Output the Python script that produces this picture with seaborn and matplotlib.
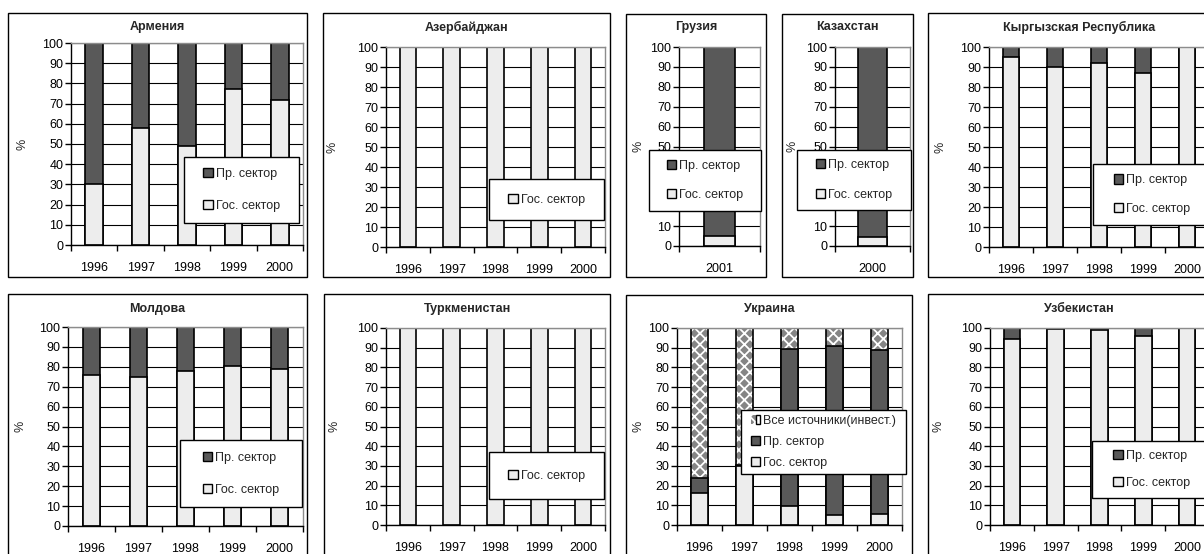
import numpy as np
import matplotlib.pyplot as plt
from matplotlib.patches import Patch, Rectangle
from matplotlib.legend_handler import HandlerTuple
import seaborn as sns

W, H = 1204, 554

YEARS = ['1996', '1997', '1998', '1999', '2000']

# shares of investment (%) by sector
armenia_gos = [30, 58, 49, 77, 72]
armenia_pr = [70, 42, 51, 23, 28]
azerbaijan_gos = [100, 100, 100, 100, 100]
georgia_years = ['2001']
georgia_gos = [5]
georgia_pr = [95]
kazakh_years = ['2000']
kazakh_gos = [4.5]
kazakh_pr = [95.5]
kyrgyz_gos = [95, 90, 92, 87, 100]
kyrgyz_pr = [5, 10, 8, 13, 0]
moldova_gos = [76, 75, 78, 80.5, 79]
moldova_pr = [24, 25, 22, 19.5, 21]
turkmen_gos = [100, 100, 100, 100, 100]
ukraine_gos = [16, 30, 9.5, 5, 5.5]
ukraine_pr = [8, 0.5, 80, 86, 83.5]
ukraine_all = [76, 69.5, 10.5, 9, 11]
uzbek_gos = [94.5, 99.5, 99, 96, 100]
uzbek_pr = [5.5, 0.5, 1, 4, 0]

LIGHT = '#ededed'
DARK = '#595959'
HATCH_FACE = '#858585'
HATCH = 'xxx'

sns.set_theme(style='white')
plt.rcParams['font.family'] = ['Liberation Sans', 'DejaVu Sans']
plt.rcParams['hatch.linewidth'] = 1.3

fig = plt.figure(figsize=(W / 100, H / 100), dpi=100)


def fig_rect(x0, y0, x1, y1, **kw):
    return Rectangle((x0 / W, 1 - y1 / H), (x1 - x0) / W, (y1 - y0) / H,
                     transform=fig.transFigure, **kw)


def panel(box, axbox, leg, title, ty, ylab_x, years, gos, pr=None, other=None, lab_sp=1.6):
    # panel frame
    fig.add_artist(fig_rect(*box, fill=False, edgecolor='black', lw=1, zorder=1))
    x0, y0, x1, y1 = axbox
    ax = fig.add_axes([x0 / W, 1 - y1 / H, (x1 - x0) / W, (y1 - y0) / H])

    layers = [(gos, LIGHT, 'Гос. сектор')]
    if pr is not None:
        layers.append((pr, DARK, 'Пр. сектор'))
    if other is not None:
        layers.append((other, 'hatch', 'Все источники(инвест.)'))
    cum = np.cumsum([np.array(l[0], dtype=float) for l in layers], axis=0)

    handles = []
    for i in reversed(range(len(layers))):
        vals, col, lab = layers[i]
        if col == 'hatch':
            sns.barplot(x=years, y=cum[i], color=HATCH_FACE, saturation=1, width=0.38,
                        hatch=HATCH, edgecolor='white', linewidth=0, errorbar=None, ax=ax)
            sns.barplot(x=years, y=cum[i], fill=False, color='black', width=0.38,
                        linewidth=1.2, errorbar=None, ax=ax)
            handles.append((Patch(facecolor=HATCH_FACE, edgecolor='white', hatch=HATCH, lw=0),
                            Patch(facecolor='none', edgecolor='black', lw=1)))
        else:
            sns.barplot(x=years, y=cum[i], color=col, saturation=1, width=0.38,
                        edgecolor='black', linewidth=1.2, errorbar=None, ax=ax)
            handles.append(Patch(facecolor=col, edgecolor='black', lw=1))
    labels = [l[2] for l in reversed(layers)]

    n = len(years)
    ax.set_xlim(-0.5, n - 0.5)
    ax.set_ylim(0, 100)
    ax.set_yticks(range(0, 101, 10))
    ax.set_xticks(np.arange(n + 1) - 0.5, minor=True)
    ax.set_xlabel('')
    ax.set_ylabel('')
    ax.set_axisbelow(True)
    ax.yaxis.grid(True, color='black', lw=0.8)
    ax.xaxis.grid(False)
    ax.tick_params(axis='x', which='major', length=0, pad=12, labelsize=9, colors='black')
    ax.tick_params(axis='x', which='minor', length=4, width=1, direction='out', color='black', bottom=True)
    ax.tick_params(axis='y', length=4, width=1, pad=1.5, labelsize=9, direction='out',
                   left=True, color='black', colors='black')
    for s in ['left', 'bottom']:
        ax.spines[s].set_color('black')
        ax.spines[s].set_linewidth(1)
    for s in ['top', 'right']:
        ax.spines[s].set_color('#8c8c8c')
        ax.spines[s].set_linewidth(1)

    # title and y label
    bx = (box[0] + box[2]) / 2
    fig.text(bx / W, 1 - ty / H, title, ha='center', va='center', fontsize=9, fontweight='bold')
    fig.text(ylab_x / W, 1 - (y0 + y1) / 2 / H, '%', rotation=90, ha='center', va='center', fontsize=9)

    # legend box with entries
    fig.add_artist(fig_rect(*leg, facecolor='white', edgecolor='black', lw=1, zorder=3))
    cx, cy = (leg[0] + leg[2]) / 2, (leg[1] + leg[3]) / 2
    lg = fig.legend(handles=handles, labels=labels, loc='center',
                    bbox_to_anchor=(cx / W, 1 - cy / H),
                    handler_map={tuple: HandlerTuple(ndivide=None, pad=0)},
                    frameon=False, fontsize=9, handlelength=0.75, handleheight=0.75,
                    handletextpad=0.25, labelspacing=lab_sp, borderpad=0)
    lg.set_zorder(5)
    return ax


# top row
panel((8, 13, 307, 277), (71, 43, 303, 245), (184, 157, 299, 223), 'Армения', 27, 22,
      YEARS, armenia_gos, armenia_pr)
panel((323, 13, 610, 277), (386, 47, 605, 247), (489, 179, 604, 220), 'Азербайджан', 27, 333,
      YEARS, azerbaijan_gos)
panel((626, 14, 766, 277), (679, 47, 760, 246), (649, 150, 761, 211), 'Грузия', 27, 638,
      georgia_years, georgia_gos, georgia_pr, lab_sp=1.4)
panel((782, 14, 913, 277), (835, 47, 910, 246), (797, 150, 911, 210), 'Казахстан', 27, 792,
      kazakh_years, kazakh_gos, kazakh_pr, lab_sp=1.4)
panel((928, 13, 1230, 277), (989, 47, 1209, 247), (1093, 164, 1211, 225), 'Кыргызская Республика', 27, 941,
      YEARS, kyrgyz_gos, kyrgyz_pr, lab_sp=1.3)

# bottom row
panel((8, 294, 307, 600), (68, 327, 303, 526), (180, 440, 302, 507), 'Молдова', 309, 20,
      YEARS, moldova_gos, moldova_pr)
panel((324, 294, 610, 600), (386, 328, 605, 525), (489, 452, 604, 499), 'Туркменистан', 309, 335,
      YEARS, turkmen_gos)
panel((626, 295, 912, 600), (677, 328, 902, 525), (741, 410, 906, 474), 'Украина', 309, 638,
      YEARS, ukraine_gos, ukraine_pr, ukraine_all, lab_sp=0.7)
panel((928, 294, 1230, 600), (990, 328, 1209, 525), (1092, 441, 1211, 498), 'Узбекистан', 309, 939,
      YEARS, uzbek_gos, uzbek_pr, lab_sp=1.2)

fig.savefig('out.png', dpi=100, facecolor='white')
